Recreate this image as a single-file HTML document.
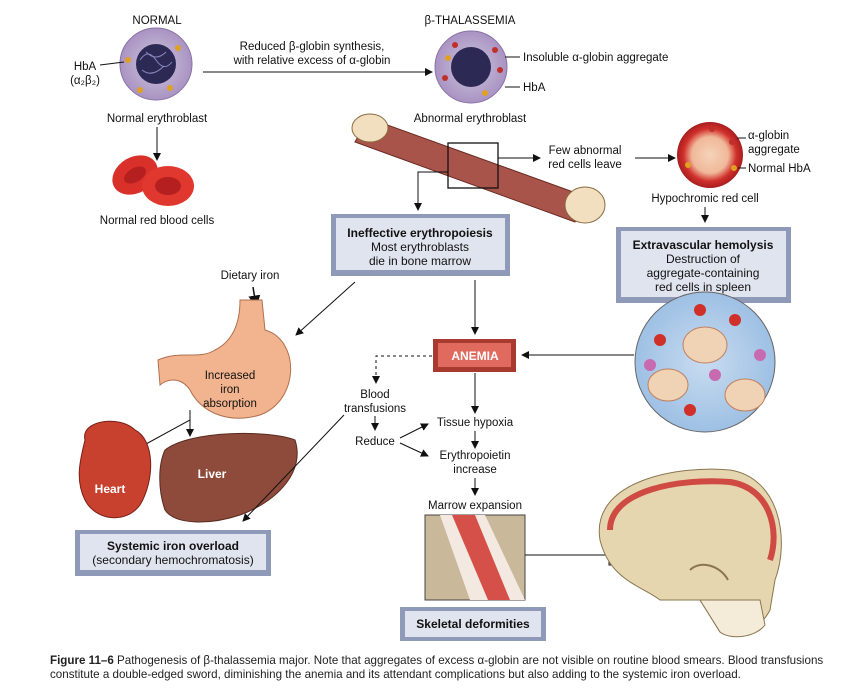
<!DOCTYPE html>
<html><head><meta charset="utf-8"><style>
html,body{margin:0;padding:0;background:#fff;}
svg{display:block;font-family:"Liberation Sans",Arial,sans-serif;}
.t{font-size:11.5px;fill:#111;}
.bx{font-size:12px;fill:#111;}
.b{font-weight:bold;}
</style></head><body>
<svg width="859" height="699" viewBox="0 0 859 699">
<defs>
<marker id="ar" markerWidth="8" markerHeight="8" refX="7" refY="4" orient="auto"><path d="M0,0 L8,4 L0,8 Z" fill="#111"/></marker>
<radialGradient id="cell" cx="50%" cy="50%" r="50%"><stop offset="0" stop-color="#cfc7de"/><stop offset="1" stop-color="#a993c2"/></radialGradient>
<radialGradient id="rbc" cx="50%" cy="50%" r="50%"><stop offset="0" stop-color="#f6d3b8"/><stop offset="0.55" stop-color="#f0b89a"/><stop offset="0.8" stop-color="#d0302b"/><stop offset="1" stop-color="#a81e1e"/></radialGradient>
<radialGradient id="spl" cx="50%" cy="50%" r="50%"><stop offset="0" stop-color="#c8dcf0"/><stop offset="1" stop-color="#9ec0e4"/></radialGradient>
</defs>

<text x="157" y="24" class="t" text-anchor="middle">NORMAL</text>
<g>
<circle cx="156" cy="64" r="36" fill="url(#cell)" stroke="#8a72a8"/>
<circle cx="156" cy="64" r="20" fill="#2c2a55"/>
<path d="M140,60 q8,-12 16,0 t16,2 M142,70 q10,8 22,-4 M146,52 q10,10 20,0" stroke="#8a86b8" fill="none"/>
<circle cx="128" cy="60" r="3" fill="#e0a020"/><circle cx="178" cy="48" r="3" fill="#e0a020"/><circle cx="170" cy="88" r="3" fill="#e0a020"/><circle cx="140" cy="90" r="3" fill="#e0a020"/>
</g>
<text x="85" y="70" class="t" text-anchor="middle">HbA</text>
<text x="85" y="84" class="t" text-anchor="middle">(α₂β₂)</text>
<line x1="100" y1="65" x2="124" y2="62" stroke="#111"/>
<text x="157" y="122" class="t" text-anchor="middle">Normal erythroblast</text>
<line x1="157" y1="127" x2="157" y2="160" stroke="#111" marker-end="url(#ar)"/>
<g>
<ellipse cx="135" cy="175" rx="24" ry="18" fill="#d9302a" transform="rotate(-30 135 175)"/>
<ellipse cx="135" cy="175" rx="12" ry="7" fill="#b51f1f" transform="rotate(-30 135 175)"/>
<ellipse cx="168" cy="186" rx="26" ry="20" fill="#e0372e"/>
<ellipse cx="168" cy="186" rx="13" ry="9" fill="#b51f1f"/>
</g>
<text x="157" y="224" class="t" text-anchor="middle">Normal red blood cells</text>

<text x="312" y="50" class="t" text-anchor="middle">Reduced β-globin synthesis,</text>
<text x="312" y="64" class="t" text-anchor="middle">with relative excess of α-globin</text>
<line x1="203" y1="72" x2="432" y2="72" stroke="#111" marker-end="url(#ar)"/>

<text x="470" y="24" class="t" text-anchor="middle">β-THALASSEMIA</text>
<g>
<circle cx="471" cy="67" r="36" fill="url(#cell)" stroke="#8a72a8"/>
<circle cx="471" cy="67" r="20" fill="#2c2a55"/>
<circle cx="495" cy="50" r="3" fill="#c0302a"/><circle cx="500" cy="70" r="3" fill="#c0302a"/><circle cx="445" cy="78" r="3" fill="#c0302a"/><circle cx="455" cy="45" r="3" fill="#c0302a"/><circle cx="485" cy="93" r="3" fill="#e0a020"/><circle cx="448" cy="58" r="3" fill="#e0a020"/>
</g>
<line x1="505" y1="57" x2="520" y2="57" stroke="#111"/>
<text x="523" y="61" class="t">Insoluble α-globin aggregate</text>
<line x1="505" y1="87" x2="520" y2="87" stroke="#111"/>
<text x="523" y="91" class="t">HbA</text>
<text x="470" y="122" class="t" text-anchor="middle">Abnormal erythroblast</text>

<g>
<path d="M368,118 L590,198 L575,222 L355,142 Z" fill="#a8544a" stroke="#6b2b24"/>
<ellipse cx="370" cy="128" rx="18" ry="14" fill="#f2dfc0" stroke="#8a6a40"/>
<ellipse cx="585" cy="205" rx="20" ry="18" fill="#f2dfc0" stroke="#8a6a40"/>
</g>
<rect x="448" y="143" width="50" height="45" fill="none" stroke="#111" stroke-width="1.3"/>
<polyline points="448,172 418,172 418,210" fill="none" stroke="#111" marker-end="url(#ar)"/>
<line x1="498" y1="158" x2="540" y2="158" stroke="#111" marker-end="url(#ar)"/>
<text x="585" y="154" class="t" text-anchor="middle">Few abnormal</text>
<text x="585" y="168" class="t" text-anchor="middle">red cells leave</text>
<line x1="635" y1="158" x2="675" y2="158" stroke="#111" marker-end="url(#ar)"/>

<circle cx="710" cy="155" r="33" fill="url(#rbc)"/>
<circle cx="712" cy="129" r="3" fill="#c0302a"/><circle cx="732" cy="142" r="3" fill="#c0302a"/><circle cx="688" cy="165" r="3" fill="#e0a020"/><circle cx="734" cy="168" r="3" fill="#e0a020"/>
<line x1="737" y1="138" x2="746" y2="138" stroke="#111"/>
<text x="748" y="139" class="t">α-globin</text>
<text x="748" y="153" class="t">aggregate</text>
<line x1="738" y1="168" x2="746" y2="168" stroke="#111"/>
<text x="748" y="172" class="t">Normal HbA</text>
<text x="705" y="202" class="t" text-anchor="middle">Hypochromic red cell</text>
<line x1="705" y1="207" x2="705" y2="222" stroke="#111" marker-end="url(#ar)"/>

<g>
<rect x="331" y="214" width="179" height="62" fill="#8e9ab8"/>
<rect x="336" y="218" width="169" height="52" fill="#dfe4ef"/>
<text x="420" y="237" class="bx b" text-anchor="middle">Ineffective erythropoiesis</text>
<text x="420" y="251" class="bx" text-anchor="middle">Most erythroblasts</text>
<text x="420" y="265" class="bx" text-anchor="middle">die in bone marrow</text>
</g>
<g>
<rect x="616" y="227" width="175" height="76" fill="#8e9ab8"/>
<rect x="621" y="231" width="165" height="66" fill="#dfe4ef"/>
<text x="703" y="249" class="bx b" text-anchor="middle">Extravascular hemolysis</text>
<text x="703" y="263" class="bx" text-anchor="middle">Destruction of</text>
<text x="703" y="277" class="bx" text-anchor="middle">aggregate-containing</text>
<text x="703" y="291" class="bx" text-anchor="middle">red cells in spleen</text>
</g>

<g>
<circle cx="705" cy="362" r="70" fill="url(#spl)" stroke="#666"/>
<ellipse cx="705" cy="345" rx="22" ry="18" fill="#f0d2b4" stroke="#c08060"/>
<ellipse cx="668" cy="385" rx="20" ry="16" fill="#f0d2b4" stroke="#c08060"/>
<ellipse cx="745" cy="395" rx="20" ry="16" fill="#f0d2b4" stroke="#c08060"/>
<circle cx="660" cy="340" r="6" fill="#d0302a"/><circle cx="735" cy="320" r="6" fill="#d0302a"/><circle cx="690" cy="410" r="6" fill="#d0302a"/><circle cx="760" cy="355" r="6" fill="#c86ab0"/><circle cx="650" cy="365" r="6" fill="#c86ab0"/><circle cx="715" cy="375" r="6" fill="#c86ab0"/><circle cx="700" cy="310" r="6" fill="#d0302a"/>
</g>

<line x1="475" y1="280" x2="475" y2="334" stroke="#111" marker-end="url(#ar)"/>
<g>
<rect x="433" y="339" width="83" height="33" fill="#a83a30"/>
<rect x="438" y="343" width="73" height="24" fill="#e06a5e"/>
<text x="475" y="360" class="b" font-size="12" fill="#fff" text-anchor="middle">ANEMIA</text>
</g>
<line x1="634" y1="355" x2="522" y2="355" stroke="#111" marker-end="url(#ar)"/>
<polyline points="432,356 376,356 376,383" fill="none" stroke="#111" stroke-dasharray="3,3" marker-end="url(#ar)"/>
<text x="375" y="398" class="t" text-anchor="middle">Blood</text>
<text x="375" y="412" class="t" text-anchor="middle">transfusions</text>
<line x1="375" y1="416" x2="375" y2="430" stroke="#111" marker-end="url(#ar)"/>
<text x="375" y="445" class="t" text-anchor="middle">Reduce</text>
<line x1="400" y1="438" x2="428" y2="424" stroke="#111" marker-end="url(#ar)"/>
<line x1="400" y1="443" x2="428" y2="456" stroke="#111" marker-end="url(#ar)"/>
<line x1="475" y1="373" x2="475" y2="413" stroke="#111" marker-end="url(#ar)"/>
<text x="475" y="426" class="t" text-anchor="middle">Tissue hypoxia</text>
<line x1="475" y1="431" x2="475" y2="448" stroke="#111" marker-end="url(#ar)"/>
<text x="475" y="459" class="t" text-anchor="middle">Erythropoietin</text>
<text x="475" y="473" class="t" text-anchor="middle">increase</text>
<line x1="475" y1="478" x2="475" y2="495" stroke="#111" marker-end="url(#ar)"/>
<text x="475" y="509" class="t" text-anchor="middle">Marrow expansion</text>

<g>
<rect x="425" y="515" width="100" height="85" fill="#c9b99a" stroke="#444"/>
<path d="M440,515 L485,515 L525,600 L470,600 Z" fill="#f3e9e0"/>
<path d="M452,515 L475,515 L510,600 L488,600 Z" fill="#d6504a"/>
</g>
<line x1="525" y1="555" x2="609" y2="555" stroke="#111"/>
<rect x="609" y="545" width="22" height="20" fill="none" stroke="#111"/>

<g>
<path d="M600,540 C590,480 680,465 730,470 C780,478 790,540 775,580 L770,610 C760,630 735,640 720,632 L700,600 L660,600 C640,585 610,580 600,540 Z" fill="#e6d6b0" stroke="#8a7550"/>
<path d="M610,530 C610,490 680,478 730,482 C770,488 780,530 770,560" fill="none" stroke="#d04a44" stroke-width="6"/>
<path d="M690,570 C700,560 720,565 728,580" fill="none" stroke="#8a7550" stroke-width="2"/>
<path d="M700,600 L760,600 L765,625 C755,638 730,640 720,632 Z" fill="#f4ecd8" stroke="#8a7550"/>
</g>

<g>
<rect x="400" y="607" width="146" height="34" fill="#8e9ab8"/>
<rect x="405" y="611" width="136" height="26" fill="#dfe4ef"/>
<text x="473" y="628" class="bx b" text-anchor="middle">Skeletal deformities</text>
</g>

<text x="250" y="279" class="t" text-anchor="middle">Dietary iron</text>
<line x1="253" y1="287" x2="256" y2="306" stroke="#111" stroke-width="1.5" marker-end="url(#ar)"/>
<g>
<path d="M240,300 L262,300 L265,330 C300,340 300,400 260,415 C225,425 200,410 190,390 C180,375 165,380 160,385 L158,360 C180,350 200,360 215,350 C235,340 240,320 240,300 Z" fill="#f2b48e" stroke="#b07050"/>
</g>
<text x="230" y="379" class="t" text-anchor="middle">Increased</text>
<text x="230" y="393" class="t" text-anchor="middle">iron</text>
<text x="230" y="407" class="t" text-anchor="middle">absorption</text>
<line x1="355" y1="282" x2="296" y2="335" stroke="#111" marker-end="url(#ar)"/>
<polyline points="190,410 190,420 135,450" fill="none" stroke="#111" marker-end="url(#ar)"/>
<line x1="190" y1="420" x2="190" y2="436" stroke="#111" marker-end="url(#ar)"/>
<g>
<path d="M85,440 C80,420 120,415 135,430 C155,440 155,480 140,505 C125,525 95,520 85,500 C75,480 80,460 85,440 Z" fill="#c8402e" stroke="#7a2018"/>
<text x="110" y="493" class="b" font-size="12" fill="#fff" text-anchor="middle">Heart</text>
</g>
<g>
<path d="M165,450 C190,430 270,430 295,440 C305,470 280,500 240,515 C210,525 175,525 165,510 C158,490 158,465 165,450 Z" fill="#8e4a3a" stroke="#5a2a20"/>
<text x="212" y="478" class="b" font-size="12" fill="#fff" text-anchor="middle">Liver</text>
</g>
<line x1="344" y1="415" x2="243" y2="521" stroke="#111" marker-end="url(#ar)"/>
<g>
<rect x="75" y="530" width="196" height="46" fill="#8e9ab8"/>
<rect x="80" y="534" width="186" height="36" fill="#dfe4ef"/>
<text x="173" y="550" class="bx b" text-anchor="middle">Systemic iron overload</text>
<text x="173" y="564" class="bx" text-anchor="middle">(secondary hemochromatosis)</text>
</g>

<text x="50" y="664" font-size="11.6" fill="#222"><tspan font-weight="bold">Figure 11–6</tspan> Pathogenesis of β-thalassemia major. Note that aggregates of excess α-globin are not visible on routine blood smears. Blood transfusions</text>
<text x="50" y="678" font-size="11.6" fill="#222">constitute a double-edged sword, diminishing the anemia and its attendant complications but also adding to the systemic iron overload.</text>
</svg>
</body></html>
